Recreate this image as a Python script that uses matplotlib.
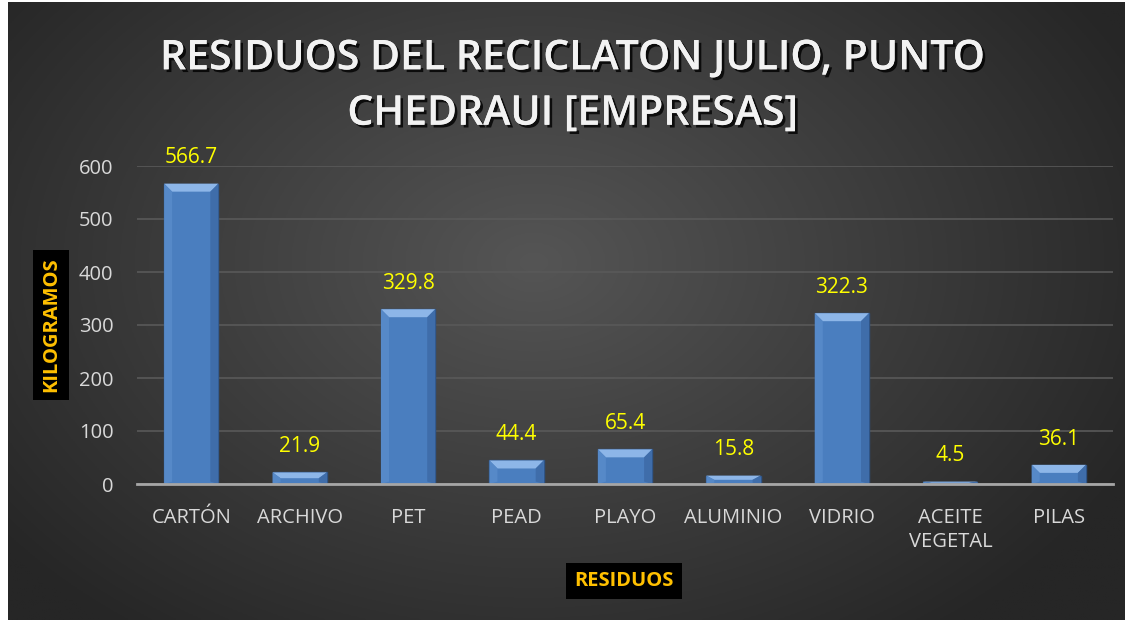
import numpy as np
import matplotlib
matplotlib.use("Agg")
import matplotlib.pyplot as plt
from matplotlib.patches import Polygon
import matplotlib.patheffects as pe

categories = ["CARTÓN", "ARCHIVO", "PET", "PEAD", "PLAYO", "ALUMINIO", "VIDRIO", "ACEITE\nVEGETAL", "PILAS"]
values = [566.7, 21.9, 329.8, 44.4, 65.4, 15.8, 322.3, 4.5, 36.1]
yticks = [0, 100, 200, 300, 400, 500, 600]
title = "RESIDUOS DEL RECICLATON JULIO, PUNTO\nCHEDRAUI [EMPRESAS]"
ylabel = "KILOGRAMOS"
xlabel = "RESIDUOS"

plt.rcParams['font.family'] = ['Open Sans', 'DejaVu Sans']

W, H = 1133, 622
fig = plt.figure(figsize=(W / 100, H / 100), dpi=100)
fig.patch.set_facecolor("white")

# background radial gradient
bg = fig.add_axes([8 / W, 2 / H, (1125 - 8) / W, (620 - 2) / H])
ny, nx = 300, 550
yy, xx = np.mgrid[0:ny, 0:nx]
cx, cy = nx * 0.47, ny * 0.42
r = np.sqrt(((xx - cx) / (nx * 0.6)) ** 2 + ((yy - cy) / (ny * 0.75)) ** 2)
r = np.clip(r, 0, 1)
c0 = np.array([0x55, 0x55, 0x55]) / 255
c1 = np.array([0x26, 0x26, 0x26]) / 255
img = c0[None, None, :] * (1 - r[..., None]) + c1[None, None, :] * r[..., None]
bg.imshow(img, aspect="auto", extent=[0, 1, 0, 1], origin="upper")
bg.set_axis_off()

ax = fig.add_axes([137 / W, (H - 484) / H, (1113 - 137) / W, (484 - 166) / H])
ax.patch.set_alpha(0)
x = np.arange(len(categories))
bars = ax.bar(x, values, width=0.5, color="#4a7ebf", edgecolor="#2f5486", linewidth=1.0, zorder=3)
ax.set_xlim(-0.5, len(categories) - 0.5)
ax.set_ylim(0, 600)
ax.set_yticks(yticks)
ax.tick_params(axis="y", length=0, colors="#d9d9d9", labelsize=14.5, pad=17)
ax.tick_params(axis="x", length=0, colors="#d9d9d9", labelsize=14.5, pad=17)
ax.set_xticks(x)
ax.set_xticklabels(categories, linespacing=1.3, va="top")
ax.grid(axis="y", color="#595959", linewidth=1.2, zorder=0)
for s in ["top", "right", "left"]:
    ax.spines[s].set_visible(False)
ax.spines["bottom"].set_color("#a6a6a6")
ax.spines["bottom"].set_linewidth(2)
ax.spines["bottom"].set_zorder(4)

# bevels
ppd_y = (484 - 166) / 600.0
ppd_x = (1113 - 137) / len(categories)
bev_px = 8
for b in bars:
    bx, bw, bh = b.get_x(), b.get_width(), b.get_height()
    dy = min(bev_px / ppd_y, bh / 2)
    dx = min(bev_px / ppd_x, bw / 4)
    top = Polygon([[bx, bh], [bx + bw, bh], [bx + bw - dx, bh - dy], [bx + dx, bh - dy]],
                  closed=True, facecolor="#8db6e8", edgecolor="none", zorder=3.5)
    ax.add_patch(top)
    left = Polygon([[bx, bh], [bx + dx, bh - dy], [bx + dx, dy * 0.3], [bx, 0]],
                   closed=True, facecolor="#5689c8", edgecolor="none", zorder=3.5)
    right = Polygon([[bx + bw, bh], [bx + bw - dx, bh - dy], [bx + bw - dx, dy * 0.3], [bx + bw, 0]],
                    closed=True, facecolor="#3f6daa", edgecolor="none", zorder=3.5)
    ax.add_patch(left)
    ax.add_patch(right)
    ax.annotate(f"{bh:.1f}", (bx + bw / 2, bh), xytext=(0, 11), textcoords="offset points",
                ha="center", va="bottom", color="#ffff00", fontsize=15, zorder=5)

fig.text(573 / W, 1 - 86 / H, title, ha="center", va="center", fontsize=29.5, fontweight="semibold",
         color="#f2f2f2", linespacing=1.42,
         path_effects=[pe.withSimplePatchShadow(offset=(2, -2), shadow_rgbFace="black", alpha=0.8), pe.Normal()])

fig.text(51 / W, 1 - 325 / H, ylabel, rotation=90, ha="center", va="center", fontsize=14.5,
         fontweight="bold", color="#ffc000",
         bbox=dict(boxstyle="square,pad=0.4", facecolor="black", edgecolor="none"))
fig.text(624 / W, 1 - 581 / H, xlabel, ha="center", va="center", fontsize=14.5,
         fontweight="bold", color="#ffc000",
         bbox=dict(boxstyle="square,pad=0.4", facecolor="black", edgecolor="none"))

fig.savefig("out.png", dpi=100, facecolor="white")
